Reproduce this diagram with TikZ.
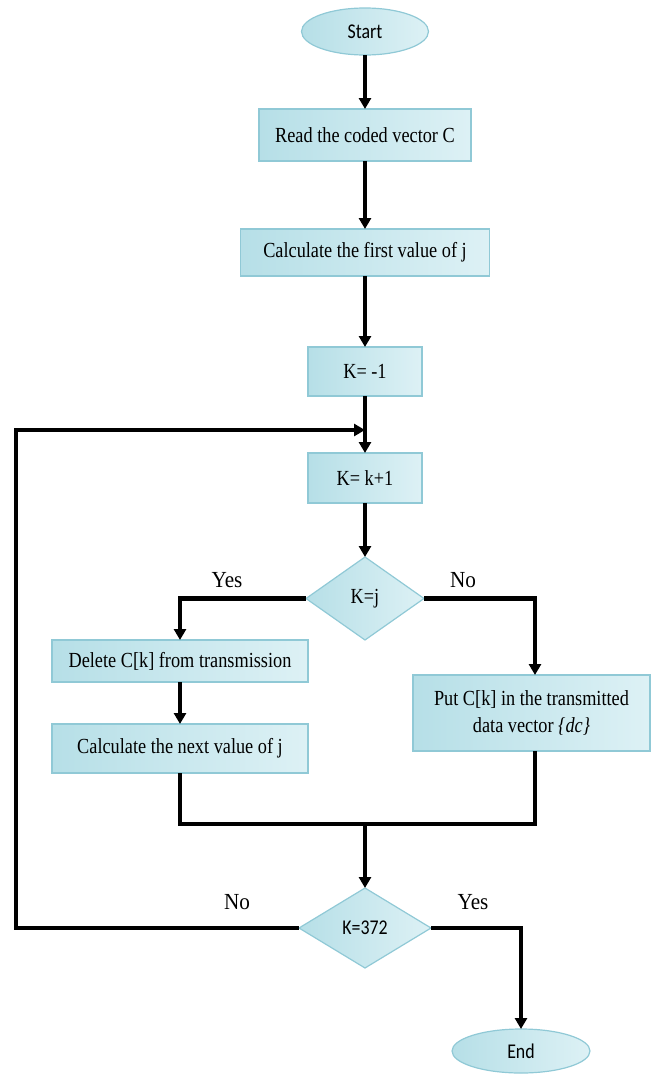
\documentclass[tikz,border=0pt]{standalone}
\usepackage{fontspec}
\setmainfont[FakeStretch=0.85]{Liberation Serif}
\newfontfamily\labelfont[FakeStretch=0.92]{Liberation Serif}
\newfontfamily\termfont[FakeStretch=0.85]{Carlito}
\usetikzlibrary{shapes.geometric,arrows.meta}
\definecolor{boxedge}{HTML}{90C9D6}
\definecolor{fillA}{HTML}{B6DFE7}
\definecolor{fillB}{HTML}{DDF1F5}
\begin{document}
\begin{tikzpicture}[x=1pt,y=-1pt,
  every node/.style={inner sep=0pt,outer sep=0pt},
  boxfill/.style={draw=boxedge,line width=1.2pt,left color=fillA,right color=fillB},
  proc/.style={rectangle,boxfill,align=center,font=\fontsize{21.5}{27}\selectfont},
  term/.style={ellipse,boxfill,font=\termfont\fontsize{21}{25}\selectfont},
  cond/.style={diamond,boxfill,font=\fontsize{21.5}{26}\selectfont},
  wire/.style={line width=4.5pt,line join=miter},
  flow/.style={wire,-{Triangle[length=11pt,width=12pt]}},
  lbl/.style={font=\labelfont\fontsize{23}{27}\selectfont}
]
\useasboundingbox (0,0) rectangle (653,1079);

% main column
\node[term,minimum width=127pt,minimum height=47pt] (start) at (365,31.5) {Start};
\node[proc,minimum width=212pt,minimum height=52pt] (read) at (365,135) {Read the coded vector C};
\node[proc,minimum width=249pt,minimum height=47pt] (calc1) at (365,252.5) {Calculate the first value of j};
\node[proc,minimum width=114pt,minimum height=49pt] (kinit) at (365,371.5) {K= -1};
\node[proc,minimum width=114pt,minimum height=50pt] (kinc) at (365,478) {K= k+1};
\node[cond,minimum width=118pt,minimum height=83pt] (test1) at (365,598.5) {K=j};

% branches
\node[proc,minimum width=256pt,minimum height=42pt] (del) at (180,661) {Delete C[k] from transmission};
\node[proc,minimum width=256pt,minimum height=49pt] (calc2) at (180,748.5) {Calculate the next value of j};
\node[proc,minimum width=237pt,minimum height=76pt] (put) at (531.5,713) {Put C[k] in the transmitted\\data vector \textit{\{dc\}}};

\node[cond,minimum width=132pt,minimum height=80pt,font=\termfont\fontsize{21}{25}\selectfont] (test2) at (365,928) {K=372};
\node[term,minimum width=138pt,minimum height=44pt] (end) at (521,1051) {End};

% helper points
\coordinate (join) at (365,824);
\coordinate (loopL) at (16,430);
\coordinate (merge) at (365,430);
\coordinate (putin) at ([xshift=3.5pt]put.north);
\coordinate (putout) at ([xshift=3.5pt]put.south);

% connectors
\draw[flow] (start) -- (read);
\draw[flow] (read) -- (calc1);
\draw[flow] (calc1) -- (kinit);
\draw[flow] (kinit) -- (kinc);
\draw[flow] (kinc) -- (test1);
\draw[flow] (test1.west) -| (del.north);
\draw[flow] (test1.east) -| (putin);
\draw[flow] (del) -- (calc2);
\draw[wire] (calc2.south) |- (putout |- join) -- (putout);
\draw[flow] (join) -- (test2.north);
\draw[flow] (test2.west) -| (loopL) -- (merge);
\draw[flow] (test2.east) -| (end.north);

% branch labels
\node[lbl] (y1) at (227,580) {Yes};
\node[lbl] (n1) at (463,580) {No};
\node[lbl] (n2) at (237,902) {No};
\node[lbl] (y2) at (473,902) {Yes};
\end{tikzpicture}
\end{document}
